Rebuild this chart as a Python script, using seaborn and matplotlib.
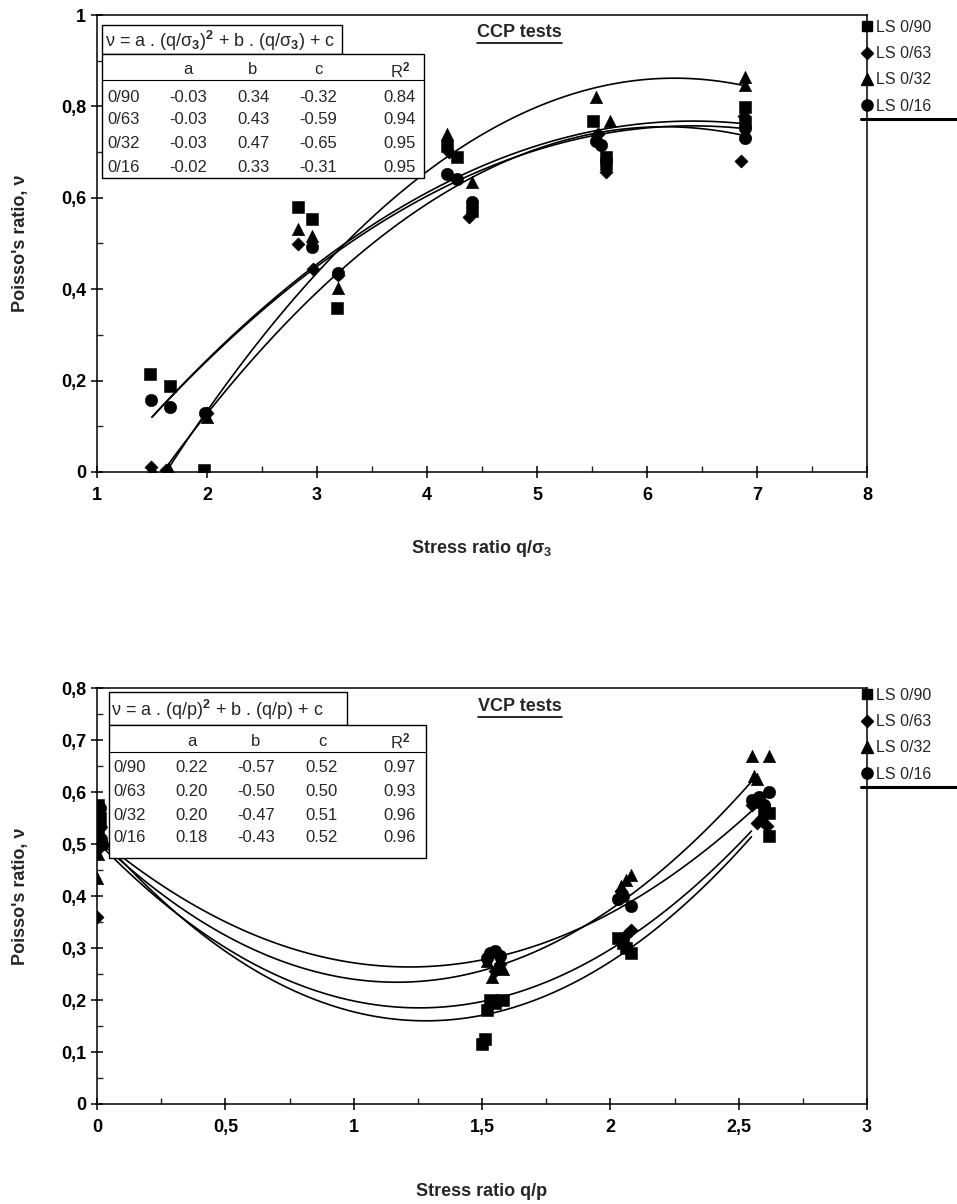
import numpy as np
import pandas as pd
import matplotlib
matplotlib.use("Agg")
import matplotlib.pyplot as plt
from matplotlib.ticker import MultipleLocator, FuncFormatter
from matplotlib.lines import Line2D
from matplotlib.patches import Rectangle
import seaborn as sns

W, H = 957, 1204

series = ["LS 0/90", "LS 0/63", "LS 0/32", "LS 0/16"]
row_names = ["0/90", "0/63", "0/32", "0/16"]
markers = {"LS 0/90": "s", "LS 0/63": "D", "LS 0/32": "^", "LS 0/16": "o"}
msize = {"LS 0/90": 70, "LS 0/63": 45, "LS 0/32": 80, "LS 0/16": 80}

# CCP tests: measured points
ccp_090_x = [1.48, 1.66, 1.97, 2.83, 2.95, 3.18, 4.18, 4.27, 4.41, 5.51, 5.63, 5.63, 6.89, 6.89]
ccp_090_y = [0.215, 0.188, 0.005, 0.58, 0.553, 0.359, 0.714, 0.689, 0.572, 0.769, 0.689, 0.674, 0.798, 0.766]
ccp_063_x = [1.49, 1.63, 2.0, 2.83, 2.96, 3.19, 4.2, 4.38, 5.55, 5.63, 6.88, 6.85]
ccp_063_y = [0.01, 0.005, 0.13, 0.498, 0.444, 0.43, 0.70, 0.557, 0.74, 0.656, 0.78, 0.681]
ccp_032_x = [1.5, 1.65, 2.0, 2.83, 2.95, 3.19, 4.18, 4.41, 5.54, 5.66, 6.89, 6.89]
ccp_032_y = [0.007, 0.007, 0.12, 0.531, 0.516, 0.402, 0.74, 0.634, 0.82, 0.769, 0.864, 0.846]
ccp_016_x = [1.49, 1.66, 1.98, 2.95, 3.19, 4.18, 4.27, 4.41, 5.54, 5.58, 6.89, 6.89]
ccp_016_y = [0.157, 0.142, 0.13, 0.492, 0.436, 0.652, 0.641, 0.59, 0.725, 0.715, 0.752, 0.731]

# CCP trend lines
fit_ccp_090_x = [1.5, 2.0, 3.0, 4.2, 5.55, 6.9]
fit_ccp_090_y = [0.120, 0.245, 0.456, 0.636, 0.747, 0.762]
fit_ccp_063_x = [1.62, 2.0, 3.0, 4.2, 5.55, 6.9]
fit_ccp_063_y = [0.005, 0.130, 0.394, 0.616, 0.741, 0.736]
fit_ccp_032_x = [1.62, 2.0, 3.0, 4.2, 5.55, 6.9]
fit_ccp_032_y = [0.000, 0.130, 0.435, 0.693, 0.843, 0.844]
fit_ccp_016_x = [1.5, 2.0, 3.0, 4.2, 5.55, 6.9]
fit_ccp_016_y = [0.120, 0.243, 0.450, 0.628, 0.738, 0.751]

ccp_a = [-0.03, -0.03, -0.03, -0.02]
ccp_b = [0.34, 0.43, 0.47, 0.33]
ccp_c = [-0.32, -0.59, -0.65, -0.31]
ccp_r2 = [0.84, 0.94, 0.95, 0.95]

# VCP tests: measured points
vcp_090_x = [0.005, 0.01, 0.005, 0.01, 1.50, 1.51, 1.52, 1.55, 1.58, 1.53, 2.03, 2.05, 2.08, 2.06, 2.57, 2.60, 2.62, 2.62]
vcp_090_y = [0.575, 0.55, 0.52, 0.50, 0.115, 0.125, 0.18, 0.195, 0.20, 0.20, 0.32, 0.31, 0.29, 0.30, 0.58, 0.565, 0.56, 0.515]
vcp_063_x = [0.0, 0.005, 0.01, 1.53, 1.56, 1.55, 1.57, 2.04, 2.06, 2.08, 2.55, 2.57, 2.59, 2.61]
vcp_063_y = [0.36, 0.49, 0.53, 0.19, 0.20, 0.255, 0.27, 0.41, 0.325, 0.335, 0.575, 0.54, 0.55, 0.535]
vcp_032_x = [0.0, 0.005, 0.01, 0.015, 1.52, 1.54, 1.56, 1.58, 2.04, 2.06, 2.08, 2.55, 2.62, 2.56, 2.57]
vcp_032_y = [0.435, 0.48, 0.50, 0.545, 0.275, 0.245, 0.265, 0.26, 0.42, 0.43, 0.44, 0.67, 0.67, 0.63, 0.625]
vcp_016_x = [0.01, 0.015, 0.02, 0.005, 1.53, 1.55, 1.52, 1.57, 2.03, 2.05, 2.08, 2.62, 2.58, 2.60, 2.55]
vcp_016_y = [0.57, 0.51, 0.50, 0.535, 0.29, 0.295, 0.28, 0.285, 0.395, 0.40, 0.38, 0.60, 0.59, 0.575, 0.585]

# VCP trend lines
fit_vcp_x = [0.0, 0.5, 1.0, 1.55, 2.05, 2.55]
fit_vcp_090_y = [0.52, 0.294, 0.177, 0.176, 0.29, 0.514]
fit_vcp_063_y = [0.505, 0.301, 0.198, 0.2025, 0.313, 0.525]
fit_vcp_032_y = [0.51, 0.324, 0.24, 0.264, 0.391, 0.62]
fit_vcp_016_y = [0.514, 0.35, 0.271, 0.282, 0.382, 0.5625]

vcp_a = [0.22, 0.20, 0.20, 0.18]
vcp_b = [-0.57, -0.50, -0.47, -0.43]
vcp_c = [0.52, 0.50, 0.51, 0.52]
vcp_r2 = [0.97, 0.93, 0.96, 0.96]


def long_frame(xs, ys):
    parts = [pd.DataFrame({"x": x, "y": y, "series": s}) for s, x, y in zip(series, xs, ys)]
    return pd.concat(parts, ignore_index=True)


ccp_pts = long_frame([ccp_090_x, ccp_063_x, ccp_032_x, ccp_016_x],
                     [ccp_090_y, ccp_063_y, ccp_032_y, ccp_016_y])
ccp_fit = long_frame([fit_ccp_090_x, fit_ccp_063_x, fit_ccp_032_x, fit_ccp_016_x],
                     [fit_ccp_090_y, fit_ccp_063_y, fit_ccp_032_y, fit_ccp_016_y])
vcp_pts = long_frame([vcp_090_x, vcp_063_x, vcp_032_x, vcp_016_x],
                     [vcp_090_y, vcp_063_y, vcp_032_y, vcp_016_y])
vcp_fit = long_frame([fit_vcp_x] * 4,
                     [fit_vcp_090_y, fit_vcp_063_y, fit_vcp_032_y, fit_vcp_016_y])

sns.set_theme(style="ticks")
plt.rcParams["font.family"] = ["Liberation Sans", "DejaVu Sans"]
plt.rcParams["font.weight"] = "bold"
plt.rcParams["mathtext.fontset"] = "custom"
plt.rcParams["mathtext.rm"] = "Liberation Sans"
plt.rcParams["mathtext.it"] = "Liberation Sans:italic"
plt.rcParams["mathtext.bf"] = "Liberation Sans:bold"


def fxy(px, py):
    return px / W, 1 - py / H


comma = FuncFormatter(lambda v, p: f"{v:g}".replace(".", ","))


def draw_panel(ax, pts, fit, xlim, ylim, xmaj, xmin, ymaj, ymin):
    for s in series:
        sub = fit[fit.series == s]
        sns.regplot(data=sub, x="x", y="y", order=2, ci=None, scatter=False, truncate=True,
                    color="black", line_kws={"lw": 1.2, "zorder": 2}, ax=ax)
    for s in series:
        sub = pts[pts.series == s]
        sns.scatterplot(data=sub, x="x", y="y", marker=markers[s], s=msize[s], color="black",
                        edgecolor="black", linewidth=0.4, zorder=3, ax=ax, legend=False)
    ax.set_xlim(*xlim)
    ax.set_ylim(*ylim)
    ax.xaxis.set_major_locator(MultipleLocator(xmaj))
    ax.xaxis.set_minor_locator(MultipleLocator(xmin))
    ax.yaxis.set_major_locator(MultipleLocator(ymaj))
    ax.yaxis.set_minor_locator(MultipleLocator(ymin))
    ax.xaxis.set_major_formatter(comma)
    ax.yaxis.set_major_formatter(comma)
    ax.tick_params(which="major", direction="inout", length=9, width=1.1, labelsize=13, colors="black")
    ax.tick_params(which="minor", direction="in", length=4, width=1.0)
    ax.tick_params(axis="x", pad=6)
    for sp in ax.spines.values():
        sp.set_linewidth(1.1)
        sp.set_color("black")
    ax.set_ylabel("Poisso's ratio, ν", fontsize=13, fontweight="bold")
    ax.yaxis.set_label_coords(-0.088, 0.5)


def draw_table(eq, eq_box, tab_box, head_y, line_y, rows_y, label_x, cols_x, a, b, c, r2):
    x0, y0, x1, y1 = eq_box
    fig.add_artist(Rectangle(fxy(x0, y1), (x1 - x0) / W, (y1 - y0) / H, transform=fig.transFigure,
                             facecolor="white", edgecolor="black", lw=1.0, zorder=4))
    x0, y0, x1, y1 = tab_box
    fig.add_artist(Rectangle(fxy(x0, y1), (x1 - x0) / W, (y1 - y0) / H, transform=fig.transFigure,
                             facecolor="white", edgecolor="black", lw=1.0, zorder=4))
    fig.add_artist(Line2D([x0 / W, x1 / W], [1 - line_y / H] * 2, transform=fig.transFigure,
                          color="black", lw=0.8, zorder=5))
    fig.text(*fxy(label_x - 2, (eq_box[1] + eq_box[3]) / 2 + 1), eq, fontsize=13, fontweight="normal",
             va="center", ha="left", zorder=6)
    for cx, h in zip(cols_x, ["a", "b", "c", "R$^2$"]):
        fig.text(*fxy(cx, head_y), h, fontsize=12, fontweight="normal", ha="center", va="center", zorder=6)
    for i, ry in enumerate(rows_y):
        fig.text(*fxy(label_x, ry), row_names[i], fontsize=12, fontweight="normal", ha="left", va="center", zorder=6)
        for cx, v in zip(cols_x, [a[i], b[i], c[i], r2[i]]):
            fig.text(*fxy(cx, ry), f"{v:.2f}", fontsize=12, fontweight="normal", ha="center", va="center", zorder=6)


fig = plt.figure(figsize=(W / 100, H / 100), dpi=100)
ax1 = fig.add_axes([97 / W, 1 - 472 / H, 770 / W, (472 - 15) / H])
ax2 = fig.add_axes([97 / W, 1 - 1104 / H, 770 / W, (1104 - 688) / H])

draw_panel(ax1, ccp_pts, ccp_fit, (1, 8), (0, 1), 1, 0.5, 0.2, 0.1)
ax1.set_xlabel("Stress ratio q/σ$_3$", fontsize=13, fontweight="bold")
ax1.xaxis.set_label_coords(0.5, -0.145)

draw_panel(ax2, vcp_pts, vcp_fit, (0, 3), (0, 0.8), 0.5, 0.25, 0.1, 0.05)
ax2.set_xlabel("Stress ratio q/p", fontsize=13, fontweight="bold")
ax2.xaxis.set_label_coords(0.5, -0.19)

draw_table("ν = a . (q/σ$_3$)$^2$ + b . (q/σ$_3$) + c", (102, 25, 342, 54), (102, 54, 424, 178),
           70, 80, [97, 120, 144, 167], 107, [188, 253, 318, 400], ccp_a, ccp_b, ccp_c, ccp_r2)
draw_table("ν = a . (q/p)$^2$ + b . (q/p) + c", (109, 692, 347, 725), (109, 725, 426, 858),
           741, 752, [768, 792, 815, 838], 113, [192, 256, 322, 400], vcp_a, vcp_b, vcp_c, vcp_r2)

titles = [ax1.text(0.549, 0.961, "CCP tests", transform=ax1.transAxes, ha="center", va="center",
                   fontsize=13, fontweight="bold"),
          ax2.text(0.549, 0.955, "VCP tests", transform=ax2.transAxes, ha="center", va="center",
                   fontsize=13, fontweight="bold")]

handles = [Line2D([], [], ls="", marker=markers[s], color="black",
                  markersize=np.sqrt(msize[s]) * 0.9) for s in series]
legs = []
for top in (20, 688):
    legs.append(fig.legend(handles, series, loc="upper left", bbox_to_anchor=fxy(861, top),
                           frameon=False, prop={"size": 11.5, "weight": "normal"}, handlelength=0.7,
                           handletextpad=0.25, labelspacing=0.7, borderpad=0, borderaxespad=0))

fig.canvas.draw()
for leg in legs:
    bb = leg.get_window_extent()
    y = (bb.y0 - 5) / H
    fig.add_artist(Line2D([bb.x0 / W, 1.0], [y, y], transform=fig.transFigure, color="black", lw=2.2))
for t in titles:
    bb = t.get_window_extent()
    y = (bb.y0 - 1.5) / H
    fig.add_artist(Line2D([bb.x0 / W, bb.x1 / W], [y, y], transform=fig.transFigure, color="black", lw=1.2))

fig.savefig("out.png", dpi=100)
